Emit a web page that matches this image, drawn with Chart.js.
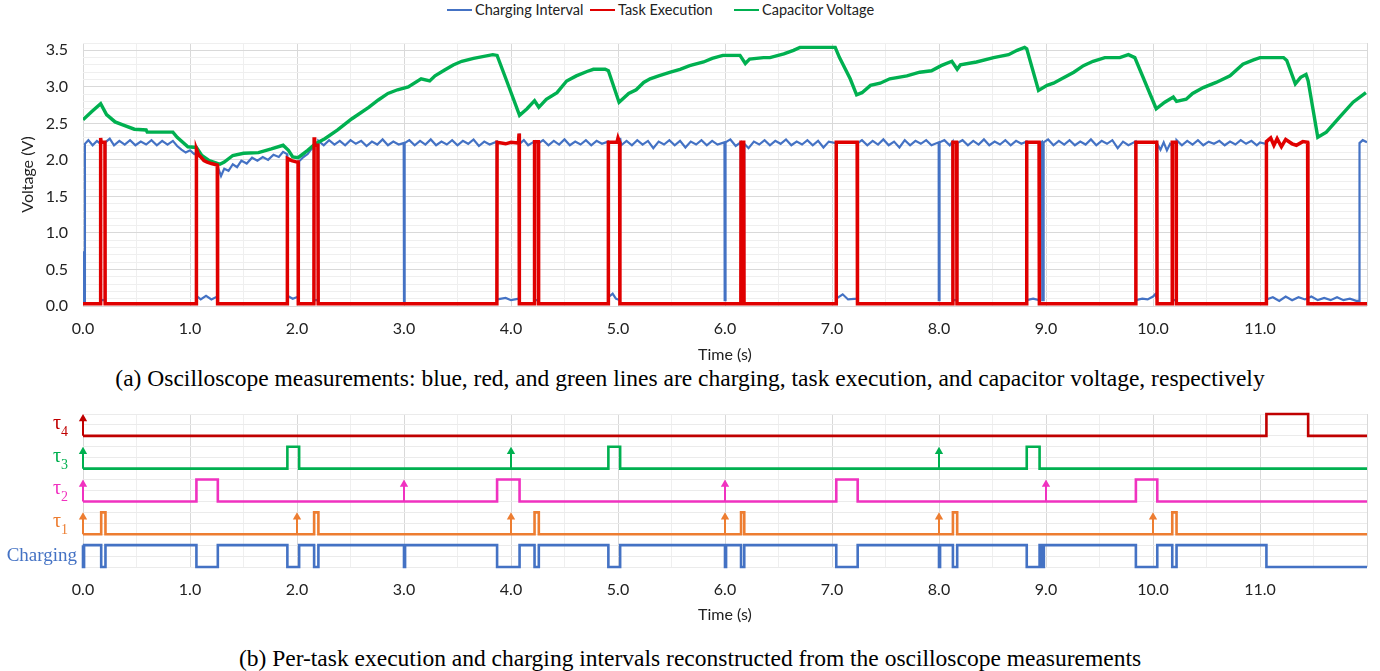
<!DOCTYPE html>
<html>
<head>
<meta charset="utf-8">
<script src="https://cdn.jsdelivr.net/npm/chart.js@4.4.1/dist/chart.umd.min.js"></script>
<style>
  body{margin:0;background:#fff;width:1380px;height:671px;overflow:hidden;position:relative;font-family:Lato,sans-serif}
  .box{position:absolute;left:0;width:1380px}
  #topBox{top:0;height:365px}
  #botBox{top:400px;height:225px}
  .cap{position:absolute;left:0;width:1380px;text-align:center;font-family:"Liberation Serif",serif;font-size:23.5px;color:#000;line-height:26px}
  .leg{position:absolute;top:1px;font-size:14.5px;color:#222;white-space:nowrap;line-height:18px}
  .leg i{display:inline-block;width:25px;height:2px;vertical-align:middle;margin-right:3px;position:relative;top:-1px}
</style>
</head>
<body>
<div class="leg" style="left:447px"><i style="background:#4472C4"></i>Charging Interval</div>
<div class="leg" style="left:590px"><i style="background:#E00000"></i>Task Execution</div>
<div class="leg" style="left:734px"><i style="background:#00B050"></i>Capacitor Voltage</div>
<div class="box" id="topBox"><canvas id="scopeChart"></canvas></div>
<div class="cap" style="top:365px">(a) Oscilloscope measurements: blue, red, and green lines are charging, task execution, and capacitor voltage, respectively</div>
<div class="box" id="botBox"><canvas id="taskChart"></canvas></div>
<div class="cap" style="top:645px">(b) Per-task execution and charging intervals reconstructed from the oscilloscope measurements</div>
<script>
// --- oscilloscope traces [time s, volts] ---
const capVoltage = [
  [0,2.55],[0.08,2.66],[0.165,2.77],[0.22,2.62],[0.30,2.52],[0.39,2.47],[0.48,2.42],[0.59,2.41],[0.60,2.38],[0.84,2.38],
  [0.88,2.31],[0.98,2.18],[1.06,2.17],[1.11,2.06],[1.18,1.99],[1.28,1.94],[1.32,1.97],[1.40,2.06],[1.50,2.09],[1.64,2.10],
  [1.76,2.15],[1.87,2.20],[1.92,2.13],[1.96,2.04],[2.01,2.03],[2.10,2.13],[2.17,2.22],[2.26,2.29],[2.38,2.41],[2.51,2.56],
  [2.67,2.72],[2.76,2.82],[2.85,2.91],[2.94,2.96],[3.04,3.00],[3.16,3.11],[3.24,3.08],[3.29,3.15],[3.38,3.23],[3.46,3.30],
  [3.54,3.35],[3.65,3.39],[3.83,3.44],[3.87,3.43],[3.96,3.08],[4.08,2.61],[4.15,2.70],[4.22,2.81],[4.26,2.72],[4.33,2.83],
  [4.43,2.92],[4.52,3.08],[4.61,3.15],[4.71,3.21],[4.77,3.24],[4.88,3.24],[4.91,3.22],[5.01,2.79],[5.10,2.91],[5.17,2.96],
  [5.24,3.06],[5.30,3.11],[5.38,3.15],[5.49,3.20],[5.58,3.24],[5.67,3.29],[5.80,3.34],[5.88,3.39],[5.98,3.43],[6.14,3.43],
  [6.19,3.32],[6.23,3.38],[6.36,3.40],[6.42,3.40],[6.55,3.45],[6.64,3.50],[6.70,3.54],[7.03,3.54],[7.07,3.40],[7.17,3.11],
  [7.23,2.89],[7.28,2.92],[7.36,3.02],[7.45,3.05],[7.54,3.11],[7.70,3.15],[7.82,3.20],[7.93,3.22],[8.02,3.29],[8.12,3.35],
  [8.17,3.24],[8.20,3.30],[8.35,3.34],[8.51,3.40],[8.65,3.44],[8.73,3.50],[8.80,3.54],[8.82,3.52],[8.93,2.95],[9.01,3.02],
  [9.07,3.05],[9.16,3.12],[9.26,3.20],[9.35,3.29],[9.44,3.35],[9.55,3.40],[9.69,3.40],[9.77,3.44],[9.83,3.40],[10.03,2.70],
  [10.11,2.79],[10.19,2.86],[10.22,2.80],[10.31,2.83],[10.37,2.91],[10.47,2.99],[10.59,3.06],[10.72,3.15],[10.84,3.31],[10.94,3.37],
  [11.00,3.40],[11.22,3.40],[11.25,3.36],[11.33,3.04],[11.38,3.13],[11.43,3.17],[11.45,3.08],[11.54,2.31],[11.62,2.38],[11.74,2.58],
  [11.87,2.79],[11.99,2.92]
];

const chargeTrace = [
  [0,0.75],[0.004,0.75],[0.006,0.05],[0.014,0.05],[0.018,2.22],[0.05,2.27],[0.09,2.2],[0.13,2.26],[0.163,2.22],[0.167,0.08],[0.205,0.08],[0.209,2.24],
  [0.25,2.29],[0.29,2.2],[0.34,2.26],[0.39,2.21],[0.44,2.27],[0.49,2.2],[0.54,2.25],[0.59,2.21],[0.64,2.27],[0.69,2.2],[0.74,2.26],[0.79,2.21],[0.84,2.26],[0.88,2.19],[0.92,2.14],[0.96,2.1],[1.0,2.13],[1.04,2.08],[1.057,2.1],
  [1.06,0.14],[1.1,0.09],[1.15,0.14],[1.2,0.09],[1.255,0.13],
  [1.26,1.9],[1.29,1.78],[1.32,1.88],[1.36,1.85],[1.4,1.94],[1.44,1.9],[1.48,1.99],[1.53,1.95],[1.58,2.03],[1.63,1.99],[1.68,2.04],[1.73,2.0],[1.78,2.07],[1.83,2.04],[1.87,2.11],[1.907,2.08],
  [1.91,0.14],[1.96,0.1],[2.015,0.13],
  [2.02,1.98],[2.06,2.04],[2.1,2.08],[2.13,2.14],[2.157,2.18],[2.16,0.08],[2.197,0.08],
  [2.2,2.26],[2.25,2.2],[2.3,2.27],[2.35,2.21],[2.4,2.26],[2.45,2.2],[2.5,2.27],[2.55,2.22],[2.6,2.26],[2.65,2.19],[2.7,2.25],[2.75,2.21],[2.8,2.28],[2.85,2.2],[2.9,2.25],[2.95,2.21],[2.997,2.23],
  [3.0,0.05],[3.004,0.05],[3.008,2.23],
  [3.05,2.27],[3.1,2.2],[3.15,2.26],[3.2,2.21],[3.25,2.28],[3.3,2.2],[3.35,2.25],[3.4,2.21],[3.45,2.27],[3.5,2.2],[3.55,2.26],[3.6,2.22],[3.65,2.28],[3.7,2.19],[3.75,2.25],[3.8,2.21],[3.867,2.25],
  [3.87,0.09],[3.95,0.11],[4.0,0.08],[4.075,0.1],[4.078,2.36],[4.082,2.22],[4.12,2.27],[4.16,2.2],[4.217,2.25],
  [4.22,0.08],[4.257,0.08],[4.26,2.23],[4.3,2.27],[4.35,2.2],[4.4,2.26],[4.45,2.21],[4.5,2.28],[4.55,2.2],[4.6,2.25],[4.65,2.21],[4.7,2.27],[4.75,2.2],[4.8,2.26],[4.85,2.22],[4.907,2.25],
  [4.91,0.12],[4.95,0.17],[4.98,0.1],[5.017,0.08],[5.02,2.3],[5.03,2.2],[5.08,2.26],[5.13,2.2],[5.18,2.27],[5.23,2.21],[5.28,2.26],[5.33,2.16],[5.38,2.25],[5.43,2.21],[5.48,2.27],[5.53,2.2],[5.58,2.26],[5.63,2.17],[5.68,2.25],[5.73,2.21],[5.78,2.27],[5.83,2.2],[5.88,2.26],[5.93,2.21],[5.995,2.24],
  [5.997,0.08],[6.003,0.08],[6.005,2.24],[6.05,2.28],[6.1,2.19],[6.147,2.24],[6.15,0.08],[6.177,0.08],[6.18,2.22],
  [6.22,2.16],[6.27,2.25],[6.32,2.21],[6.37,2.27],[6.42,2.2],[6.47,2.26],[6.52,2.22],[6.57,2.28],[6.62,2.2],[6.67,2.25],[6.72,2.21],[6.77,2.27],[6.82,2.2],[6.87,2.26],[6.92,2.17],[6.97,2.25],[7.037,2.23],
  [7.04,0.1],[7.1,0.16],[7.15,0.09],[7.237,0.1],[7.24,2.23],
  [7.28,2.27],[7.33,2.2],[7.38,2.26],[7.43,2.21],[7.48,2.28],[7.53,2.2],[7.58,2.25],[7.63,2.17],[7.68,2.27],[7.73,2.2],[7.78,2.26],[7.83,2.22],[7.88,2.27],[7.93,2.2],[7.997,2.24],
  [7.998,0.08],[8.003,0.08],[8.005,2.24],[8.05,2.27],[8.1,2.2],[8.127,2.25],[8.13,0.08],[8.167,0.08],[8.17,2.23],
  [8.22,2.27],[8.27,2.2],[8.32,2.26],[8.37,2.21],[8.42,2.28],[8.47,2.2],[8.52,2.25],[8.57,2.21],[8.62,2.27],[8.67,2.2],[8.72,2.26],[8.77,2.22],[8.817,2.25],
  [8.82,0.08],[8.88,0.1],[8.937,0.08],[8.94,2.23],[8.962,2.25],[8.965,0.08],[8.975,0.08],[8.978,2.24],
  [9.02,2.28],[9.07,2.2],[9.12,2.26],[9.17,2.21],[9.22,2.27],[9.27,2.2],[9.32,2.25],[9.37,2.21],[9.42,2.28],[9.47,2.2],[9.52,2.26],[9.57,2.22],[9.62,2.27],[9.67,2.16],[9.72,2.25],[9.77,2.2],[9.837,2.25],
  [9.84,0.08],[9.9,0.1],[9.95,0.09],[10.0,0.13],[10.02,0.16],[10.037,0.1],[10.04,2.22],[10.07,2.14],[10.1,2.24],[10.13,2.13],[10.16,2.22],[10.177,2.2],
  [10.18,0.08],[10.217,0.08],[10.22,2.27],
  [10.27,2.2],[10.32,2.26],[10.37,2.21],[10.42,2.27],[10.47,2.2],[10.52,2.25],[10.57,2.22],[10.62,2.26],[10.67,2.2],[10.72,2.25],[10.77,2.21],[10.82,2.27],[10.87,2.22],[10.92,2.26],[10.97,2.2],[11.0,2.24],[11.057,2.22],
  [11.06,0.09],[11.12,0.12],[11.18,0.07],[11.24,0.13],[11.3,0.08],[11.36,0.12],[11.42,0.09],[11.48,0.13],[11.54,0.08],[11.6,0.11],[11.66,0.08],[11.72,0.12],[11.78,0.08],[11.84,0.1],[11.9,0.07],[11.927,0.07],
  [11.93,2.23],[11.96,2.27],[12,2.24]
];

const taskTrace = [
  [0,0.03],[0.163,0.03],[0.165,2.3],[0.17,2.24],[0.205,2.24],[0.207,0.03],
  [1.058,0.03],[1.06,2.15],[1.08,2.07],[1.1,2.04],[1.13,1.99],[1.16,1.97],[1.2,1.95],[1.255,1.93],[1.258,0.03],
  [1.908,0.03],[1.91,2.02],[1.95,1.99],[2.0,1.97],[2.01,1.97],[2.012,0.03],
  [2.158,0.03],[2.16,2.31],[2.165,2.2],[2.195,2.2],[2.198,0.03],
  [3.868,0.03],[3.87,2.24],[3.95,2.22],[4.0,2.24],[4.07,2.23],[4.075,2.36],[4.078,0.03],
  [4.218,0.03],[4.22,2.25],[4.255,2.25],[4.258,0.03],
  [4.908,0.03],[4.91,2.24],[4.99,2.24],[5.0,2.3],[5.015,2.24],[5.018,0.03],
  [6.148,0.03],[6.15,2.24],[6.175,2.24],[6.178,0.03],
  [7.038,0.03],[7.04,2.24],[7.235,2.24],[7.238,0.03],
  [8.128,0.03],[8.13,2.24],[8.165,2.24],[8.168,0.03],
  [8.818,0.03],[8.82,2.24],[8.935,2.24],[8.938,0.03],
  [9.838,0.03],[9.84,2.24],[10.035,2.24],[10.038,0.03],
  [10.178,0.03],[10.18,2.24],[10.215,2.24],[10.218,0.03],
  [11.058,0.03],[11.06,2.25],[11.1,2.3],[11.13,2.2],[11.16,2.29],[11.2,2.18],[11.24,2.28],[11.3,2.22],[11.34,2.2],[11.4,2.25],[11.445,2.24],[11.448,0.03],[12,0.03]
];

// --- reconstructed per-task intervals [start, end] in s ---
const chargeOff = [[0,0.01],[0.17,0.21],[1.06,1.26],[1.91,2.02],[2.16,2.2],[3.0,3.01],[3.87,4.08],[4.22,4.26],[4.91,5.02],
  [6.0,6.01],[6.15,6.18],[7.04,7.24],[8.0,8.01],[8.13,8.17],[8.82,8.94],[8.96,8.98],[9.84,10.04],[10.18,10.22],[11.06,12]];
const tau1Exec = [[0.17,0.21],[2.16,2.2],[4.22,4.26],[6.15,6.18],[8.13,8.17],[10.18,10.22]];
const tau2Exec = [[1.06,1.26],[3.87,4.08],[7.04,7.24],[9.84,10.04]];
const tau3Exec = [[1.91,2.02],[4.91,5.02],[8.82,8.94]];
const tau4Exec = [[11.06,11.45]];
const tau1Release = [0,2,4,6,8,10];
const tau2Release = [0,3,6,9];
const tau3Release = [0,4,8];
const tau4Release = [0];
const rowNames = ["Charging","τ1","τ2","τ3","τ4"];
const rowBase = [0,3,6,9,12];

const timeEnd = 12;
const voltTicks = [0,0.5,1,1.5,2,2.5,3,3.5];
const timeTicks = [0,1,2,3,4,5,6,7,8,9,10,11];

const rowColors = ["#4472C4","#ED7D31","#F032C0","#00B050","#C00000"];
const tickFont = {family:"Lato", size:16};

function stepLine(idle, active, intervals){
  const pts = [[0, idle]];
  let lastEnd = 0;
  intervals.forEach(([a,b]) => {
    pts.push([a, idle],[a, active],[b, active]);
    if (b < timeEnd) pts.push([b, idle]);
    lastEnd = b;
  });
  if (lastEnd < timeEnd) pts.push([timeEnd, idle]);
  return pts;
}
function arrowLine(releases, base){
  const pts = [];
  releases.forEach(r => { pts.push([r, base],[r, base+1.56],[r, null]); });
  return pts;
}
const isHalf = v => Math.abs(v*2 - Math.round(v*2)) < 1e-6;
const isInt = v => Math.abs(v - Math.round(v)) < 1e-6;

function timeScale(){
  return {
    type:"linear", min:0, max:timeEnd,
    afterBuildTicks: s => { s.ticks = []; for (let i=0;i<=timeEnd*2;i++) s.ticks.push({value:i/2}); },
    ticks:{ font:tickFont, color:"#222", padding:13, maxRotation:0, autoSkip:false,
      callback: v => (isInt(v) && timeTicks.includes(Math.round(v))) ? v.toFixed(1) : "" },
    grid:{ drawTicks:false, color: c => isInt(c.tick.value) ? "#d9d9d9" : "#efefef", lineWidth:1 },
    border:{ display:false },
    title:{ display:true, text:"Time (s)", font:tickFont, color:"#222", padding:{top:0,bottom:1} }
  };
}

// top: oscilloscope
new Chart(document.getElementById("scopeChart"), {
  type:"line",
  data:{ datasets:[
    { label:"Task Execution", data:taskTrace, borderColor:"#E00000", backgroundColor:"#E00000", borderWidth:3.5, order:1 },
    { label:"Capacitor Voltage", data:capVoltage, borderColor:"#00B050", backgroundColor:"#00B050", borderWidth:3.4, order:2 },
    { label:"Charging Interval", data:chargeTrace, borderColor:"#4472C4", backgroundColor:"#4472C4", borderWidth:2.2, order:3 }
  ]},
  options:{
    responsive:true, maintainAspectRatio:false, animation:false,
    layout:{ padding:{ top:43, right:13, left:18, bottom:0 } },
    elements:{ point:{ radius:0 }, line:{ tension:0, borderJoinStyle:"miter" } },
    plugins:{ legend:{ display:false }, tooltip:{ enabled:false } },
    scales:{
      x: Object.assign(timeScale(), { afterFit: s => { s.height = 59; } }),
      y:{
        min:0, max:3.6,
        afterBuildTicks: s => { s.ticks = []; for (let i=0;i<=36;i++) s.ticks.push({value:i/10}); },
        afterFit: s => { s.width = 65; },
        ticks:{ font:tickFont, color:"#222", padding:15, autoSkip:false,
          callback: v => voltTicks.some(t => Math.abs(t - v) < 1e-6) ? v.toFixed(1) : "" },
        grid:{ drawTicks:false, color: c => isHalf(c.tick.value) ? "#d9d9d9" : "#efefef" },
        border:{ display:false },
        title:{ display:true, text:"Voltage (V)", font:tickFont, color:"#222", padding:{top:0,bottom:0} }
      }
    }
  }
});

// bottom: per-task timeline
const execRows = [chargeOff, tau1Exec, tau2Exec, tau3Exec, tau4Exec];
const releaseRows = [null, tau1Release, tau2Release, tau3Release, tau4Release];
const taskSets = [];
execRows.forEach((iv, i) => {
  const base = rowBase[i];
  const data = i === 0 ? stepLine(base+2, base, iv) : stepLine(base, base+2, iv);
  taskSets.push({ data, borderColor:rowColors[i], borderWidth:2.6, pointRadius:0, clip:6 });
  if (releaseRows[i]) {
    taskSets.push({ data:arrowLine(releaseRows[i], base), borderColor:rowColors[i], backgroundColor:rowColors[i],
      borderWidth:2, spanGaps:false, pointStyle:"triangle", pointBorderWidth:0, clip:10,
      pointRadius: c => c.dataIndex % 3 === 1 ? 4.8 : 0 });
  }
});

const rowLabelPlugin = {
  id:"rowLabels",
  afterDraw(chart){
    const {ctx, scales:{y}} = chart;
    ctx.save();
    ctx.textBaseline = "alphabetic";
    rowNames.forEach((name, i) => {
      const py = y.getPixelForValue(rowBase[i]);
      ctx.fillStyle = rowColors[i];
      if (name.startsWith("τ")) {
        const sub = name.slice(1);
        ctx.font = '14px "Liberation Serif"';
        ctx.textAlign = "right";
        ctx.fillText(sub, 68, py);
        const w = ctx.measureText(sub).width;
        ctx.font = '20px "Liberation Serif"';
        ctx.fillText("τ", 68 - w, py - 7);
      } else {
        ctx.font = '19px "Liberation Serif"';
        ctx.textAlign = "right";
        ctx.fillText(name, 77, py - 6);
      }
    });
    ctx.restore();
  }
};

new Chart(document.getElementById("taskChart"), {
  type:"line",
  data:{ datasets:taskSets },
  plugins:[rowLabelPlugin],
  options:{
    responsive:true, maintainAspectRatio:false, animation:false,
    layout:{ padding:{ top:14, right:13, left:0, bottom:0 } },
    elements:{ line:{ tension:0 } },
    plugins:{ legend:{ display:false }, tooltip:{ enabled:false } },
    scales:{
      x: Object.assign(timeScale(), { afterFit: s => { s.height = 58; } }),
      y:{
        min:0, max:14,
        afterFit: s => { s.width = 83; },
        ticks:{ display:false, stepSize:1 },
        grid:{ drawTicks:false, color:"#ebebeb" },
        border:{ display:false }
      }
    }
  }
});
</script>
</body>
</html>
